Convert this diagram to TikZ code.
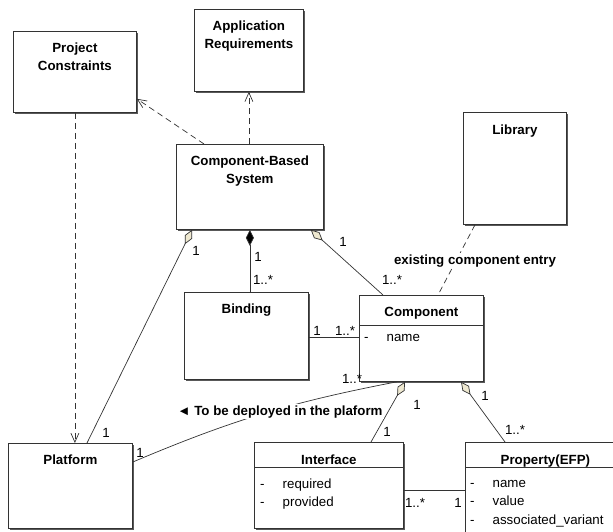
\documentclass[tikz,border=0pt]{standalone}
\usepackage{fontspec}
\setmainfont{Liberation Sans}
\usepackage{tikz}
\usetikzlibrary{positioning}
\usetikzlibrary{calc, arrows.meta, shadows}
\definecolor{aggfill}{RGB}{238,232,208}
\newcommand{\umlattr}[1]{\makebox[22.5pt][l]{-}#1}

\begin{document}
\begin{tikzpicture}[x=1pt, y=-1pt,
        classbox/.style={draw=black!80, line width=0.8pt, fill=white, anchor=north west, inner sep=0pt,
            drop shadow={shadow xshift=1.8pt, shadow yshift=-1.8pt, fill=black!65, opacity=1}},
        boxtitle/.style={font=\bfseries\fontsize{13.3}{18}\selectfont, align=center, inner sep=0pt},
        attr/.style={font=\fontsize{13.3}{16}\selectfont, inner sep=0pt, anchor=mid west},
        mult/.style={font=\fontsize{13.3}{16}\selectfont, inner sep=0.5pt},
        role/.style={font=\bfseries\fontsize{13.3}{16}\selectfont, fill=white, inner sep=1pt, anchor=base},
        dep/.style={draw=black!80, line width=0.7pt, dash pattern=on 6pt off 4pt, -{Straight Barb[length=9pt, width=8pt]}},
        agg/.style={draw=black!80, line width=0.7pt, {Diamond[length=16pt, width=8pt, fill=aggfill]}-},
        compos/.style={draw=black!80, line width=0.7pt, {Diamond[length=16pt, width=8pt, fill=black]}-},
        assoc/.style={draw=black!80, line width=0.7pt}
    ]
        \useasboundingbox (0,0) rectangle (613,531);

        % Boxes
        \node[classbox, minimum width=123pt, minimum height=81pt] (pc) at (13,31) {};
        \node[classbox, minimum width=109pt, minimum height=82pt] (ar) at (194,9) {};
        \node[classbox, minimum width=147pt, minimum height=85pt] (cbs) at (176,144) {};
        \node[classbox, minimum width=103pt, minimum height=112pt] (lib) at (463,112) {};
        \node[classbox, minimum width=124pt, minimum height=87pt] (bind) at (184,292) {};
        \node[classbox, minimum width=124pt, minimum height=86pt] (comp) at (359,295) {};
        \node[classbox, minimum width=124pt, minimum height=85pt] (plat) at (8,443) {};
        \node[classbox, minimum width=149pt, minimum height=86pt] (intf) at (254,442) {};
        \node[classbox, minimum width=160pt, minimum height=100pt] (prop) at (465,442) {};

        % Titles
        \node[boxtitle, below=12pt of pc.north] (pctitle) {Project\\Constraints};
        \node[boxtitle, below=12pt of ar.north] (artitle) {Application\\Requirements};
        \node[boxtitle, below=12pt of cbs.north] (cbstitle) {Component-Based\\System};
        \node[boxtitle, below=13pt of lib.north] (libtitle) {Library};
        \node[boxtitle, below=12pt of bind.north] (bindtitle) {Binding};
        \node[boxtitle, below=12pt of comp.north] (comptitle) {Component};
        \node[boxtitle, below=12pt of plat.north] (plattitle) {Platform};
        \node[boxtitle, below=13pt of intf.north] (intftitle) {Interface};
        \node[boxtitle, below=13pt of prop.north] (proptitle) {Property(EFP)};

        % Compartments
        \draw[draw=black!80, line width=0.7pt] ($(comp.north west)+(0,30)$) -- ($(comp.north east)+(0,30)$);
        \draw[draw=black!80, line width=0.7pt] ($(intf.north west)+(0,25)$) -- ($(intf.north east)+(0,25)$);
        \draw[draw=black!80, line width=0.7pt] ($(prop.north west)+(0,25)$) -- ($(prop.north east)+(0,25)$);
        \node[attr] (compname) at (364,339) {\umlattr{name}};
        \node[attr] (intfreq) at (260,486) {\umlattr{required}};
        \node[attr] (intfprov) at (260,504) {\umlattr{provided}};
        \node[attr] (propname) at (470,485) {\umlattr{name}};
        \node[attr] (propval) at (470,503) {\umlattr{value}};
        \node[attr] (propvar) at (470,522) {\umlattr{associated\_variant}};

        % Dependencies
        \draw[dep] ($(cbs.north west)+(28,0)$) -- ($(pc.south east)+(0,-14)$);
        \draw[dep] (ar.south |- cbs.north) -- (ar.south);
        \draw[dep] (pc.south) -- (pc.south |- plat.north);
        \draw[assoc, dash pattern=on 6pt off 4pt] ($(lib.south west)+(12,0)$) -- ($(comp.north west)+(79,0)$);
        \node[role] (entry) at (475,264) {existing component entry};

        % Aggregations and composition
        \draw[agg] ($(cbs.south west)+(16,0)$) -- ($(plat.north west)+(79,0)$);
        \draw[compos] (cbs.south) -- (cbs.south |- bind.north);
        \draw[agg] ($(cbs.south east)+(-13,0)$) -- ($(comp.north west)+(24,0)$);
        \draw[agg] ($(comp.south west)+(46,0)$) -- ($(intf.north west)+(117,0)$);
        \draw[agg] ($(comp.south west)+(102,0)$) -- ($(prop.north west)+(40,0)$);

        % Associations
        \draw[assoc] ($(bind.north east)+(0,45)$) -- ($(comp.north west)+(0,42)$);
        \draw[assoc] ($(intf.north east)+(0,48)$) -- ($(prop.north west)+(0,48)$);
        \draw[assoc] ($(comp.south west)+(38,0)$) to[bend right=6] ($(plat.north east)+(0,19)$);
        \node[role] (deploy) at (280,415) {◄ To be deployed in the plaform};

        % Multiplicities
        \node[mult] (m1) at (196,251) {1};
        \node[mult] (m2) at (106,433) {1};
        \node[mult] (m3) at (258,257) {1};
        \node[mult] (m4) at (263,280) {1..*};
        \node[mult] (m5) at (343,242) {1};
        \node[mult] (m6) at (392,280) {1..*};
        \node[mult] (m7) at (317,331) {1};
        \node[mult] (m8) at (345,331) {1..*};
        \node[mult] (m9) at (352,379) {1..*};
        \node[mult] (m10) at (140,453) {1};
        \node[mult] (m11) at (417,405) {1};
        \node[mult] (m12) at (387,432) {1};
        \node[mult] (m13) at (485,396) {1};
        \node[mult] (m14) at (515,430) {1..*};
        \node[mult] (m15) at (415,503) {1..*};
        \node[mult] (m16) at (458,503) {1};
\end{tikzpicture}
\end{document}
